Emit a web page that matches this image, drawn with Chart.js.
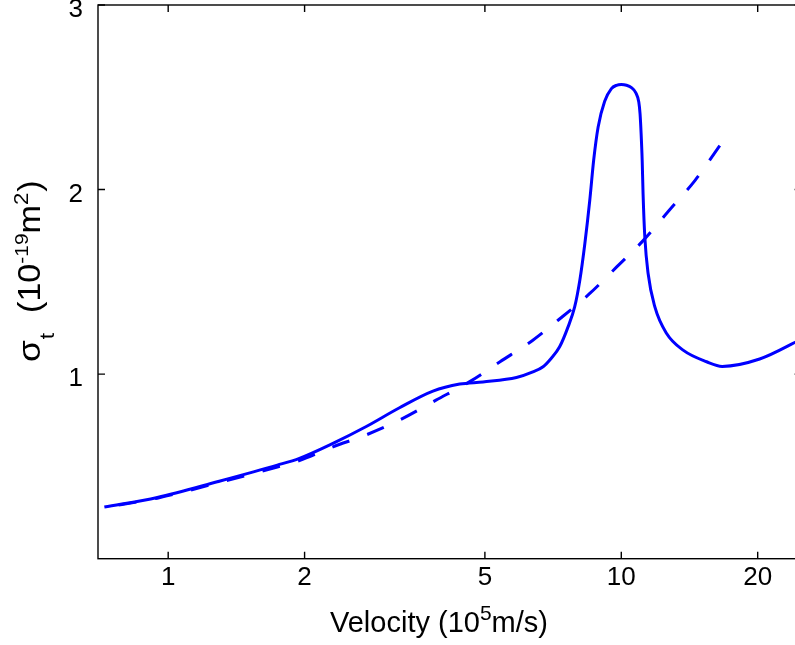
<!DOCTYPE html>
<html>
<head>
<meta charset="utf-8">
<script src="https://cdn.jsdelivr.net/npm/chart.js@4.4.0/dist/chart.umd.min.js"></script>
<style>
  html, body { margin: 0; padding: 0; background: #fff; overflow: hidden; width: 795px; height: 645px; }
  #wrap { width: 810px; height: 645px; }
</style>
</head>
<body>
<div id="wrap"><canvas id="grafico" width="810" height="645"></canvas></div>
<script>
const ctx = document.getElementById("grafico");

// velocity (10^5 m/s) and sigma_t (10^-19 m^2)
const solidVel = [0.723, 0.946, 1.283, 1.741, 1.948, 2.31, 2.73, 3.24, 3.84, 4.4, 4.95, 5.87, 6.38, 6.72, 7.0, 7.31, 7.63, 7.89, 8.1, 8.31, 8.52, 8.69, 8.89, 9.19, 9.51, 9.76, 10.0, 10.27, 10.53, 10.76, 10.93, 11.0, 11.06, 11.12, 11.17, 11.27, 11.46, 11.86, 12.59, 13.69, 15.43, 16.7, 20.2, 25];
const solidSigma = [0.28, 0.332, 0.417, 0.507, 0.544, 0.625, 0.715, 0.818, 0.908, 0.946, 0.958, 0.982, 1.012, 1.04, 1.085, 1.148, 1.256, 1.364, 1.509, 1.708, 1.942, 2.159, 2.339, 2.478, 2.547, 2.565, 2.569, 2.565, 2.552, 2.525, 2.474, 2.411, 2.303, 2.159, 1.978, 1.743, 1.545, 1.364, 1.22, 1.13, 1.067, 1.042, 1.082, 1.19];

const dashVel = [0.723, 0.946, 1.283, 1.741, 1.948, 2.31, 2.73, 3.24, 3.9, 4.62, 5.4, 6.38, 7.25, 8.52, 9.77, 11.2, 12.76, 14.55, 16.5];
const dashSigma = [0.278, 0.328, 0.41, 0.497, 0.532, 0.606, 0.67, 0.751, 0.859, 0.958, 1.067, 1.184, 1.292, 1.437, 1.581, 1.726, 1.888, 2.05, 2.239];

const xTicks = [1, 2, 5, 10, 20];
const yTicks = [1, 2, 3];

const FONT = "'Liberation Sans', Arial, Helvetica, sans-serif";
const BLUE = "#0000ff";

function toPoints(xs, ys) {
  return xs.map((x, i) => ({ x: x, y: ys[i] }));
}

// draws a string made of pieces (normal / super / subscript)
function drawRich(c, parts, x, y) {
  let cx = x;
  parts.forEach((p) => {
    c.font = p.size + "px " + FONT;
    c.fillText(p.t, cx, y + (p.dy || 0));
    cx += c.measureText(p.t).width + (p.gap || 0);
  });
}

const framePlugin = {
  id: "frame",
  afterDraw(chart) {
    const c = chart.ctx;
    const a = chart.chartArea;
    const sx = chart.scales.x;
    const sy = chart.scales.y;
    c.save();
    c.strokeStyle = "#000";
    c.lineWidth = 1.4;
    c.strokeRect(a.left, a.top, a.right - a.left, a.bottom - a.top);
    c.beginPath();
    xTicks.forEach((v) => {
      const px = sx.getPixelForValue(v);
      c.moveTo(px, a.bottom);
      c.lineTo(px, a.bottom - 7);
      c.moveTo(px, a.top);
      c.lineTo(px, a.top + 7);
    });
    yTicks.forEach((v) => {
      const py = sy.getPixelForValue(v);
      c.moveTo(a.left, py);
      c.lineTo(a.left + 7, py);
      c.moveTo(a.right, py);
      c.lineTo(a.right - 7, py);
    });
    c.stroke();

    c.fillStyle = "#000";
    c.textBaseline = "alphabetic";
    c.textAlign = "left";
    drawRich(c, [
      { t: "Velocity (10", size: 29 },
      { t: "5", size: 21, dy: -12 },
      { t: "m/s)", size: 29 },
    ], 330, 632);

    c.translate(40, 362);
    c.rotate(-Math.PI / 2);
    c.scale(1.1, 1);
    drawRich(c, [
      { t: "\u03c3", size: 32, gap: 1 },
      { t: "t", size: 21, dy: 14, gap: 18 },
      { t: "(10", size: 31 },
      { t: "-19", size: 19, dy: -12 },
      { t: "m", size: 31 },
      { t: "2", size: 20, dy: -12, gap: 1 },
      { t: ")", size: 31 },
    ], 0, 0);
    c.restore();
  },
};

new Chart(ctx, {
  type: "line",
  data: {
    datasets: [
      {
        label: "solid",
        data: toPoints(solidVel, solidSigma),
        borderColor: BLUE,
        borderWidth: 3,
        pointRadius: 0,
        cubicInterpolationMode: "monotone",
        fill: false,
      },
      {
        label: "dashed",
        data: toPoints(dashVel, dashSigma),
        borderColor: BLUE,
        borderWidth: 3,
        borderDash: [18, 19],
        borderDashOffset: 22.6,
        pointRadius: 0,
        cubicInterpolationMode: "monotone",
        fill: false,
      },
    ],
  },
  options: {
    responsive: false,
    animation: false,
    devicePixelRatio: 1,
    layout: {
      autoPadding: false,
      padding: { left: 0, right: 8.4, top: 5, bottom: 0 },
    },
    plugins: {
      legend: { display: false },
      tooltip: { enabled: false },
    },
    scales: {
      x: {
        type: "logarithmic",
        min: 0.7,
        max: 25,
        grid: { display: false, drawTicks: false, tickLength: 0 },
        border: { display: false },
        afterBuildTicks: (s) => {
          s.ticks = xTicks.map((v) => ({ value: v }));
        },
        afterFit: (s) => {
          s.height = 86.3;
          s.paddingLeft = 0;
          s.paddingRight = 0;
        },
        ticks: {
          autoSkip: false,
          maxRotation: 0,
          padding: 4,
          color: "#000",
          font: { family: FONT, size: 26 },
          callback: (v) => String(v),
        },
      },
      y: {
        type: "linear",
        min: 0,
        max: 3,
        grid: { display: false, drawTicks: false, tickLength: 0 },
        border: { display: false },
        afterBuildTicks: (s) => {
          s.ticks = yTicks.map((v) => ({ value: v }));
        },
        afterFit: (s) => {
          s.width = 98;
          s.paddingTop = 0;
          s.paddingBottom = 0;
        },
        ticks: {
          padding: 15,
          labelOffset: 5,
          color: "#000",
          font: { family: FONT, size: 26 },
          callback: (v) => String(v),
        },
      },
    },
  },
  plugins: [framePlugin],
});
</script>
</body>
</html>
